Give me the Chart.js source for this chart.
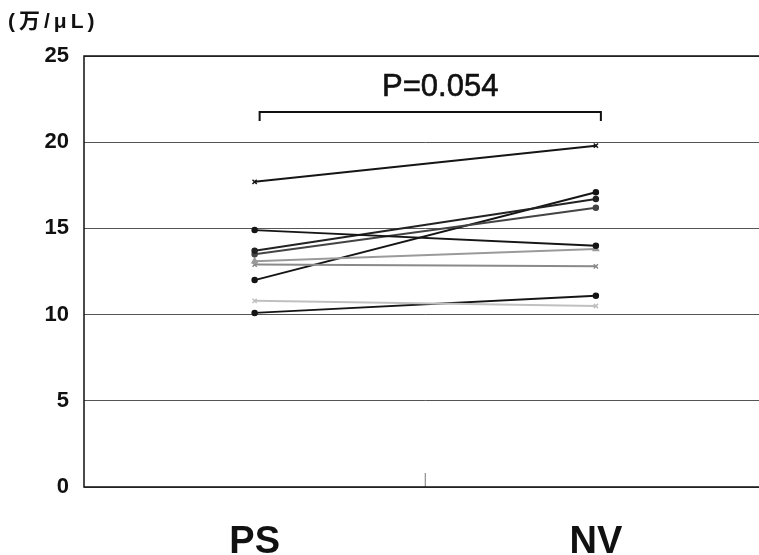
<!DOCTYPE html>
<html>
<head>
<meta charset="utf-8">
<script src="https://cdn.jsdelivr.net/npm/chart.js@4"></script>
<style>
  html, body { margin: 0; padding: 0; background: #fff; overflow: hidden; }
  #wrap { width: 772px; height: 555px; }
</style>
</head>
<body>
<div id="wrap"><canvas id="plateletChart"></canvas></div>
<script>
// Data

const groups = ["PS", "NV"];
const yTicks = [0, 5, 10, 15, 20, 25];

const ps = [17.7, 14.9, 13.7, 13.5, 13.1, 12.9, 12.0, 10.8, 10.1];
const nv = [19.8, 14.0, 16.7, 16.2, 13.8, 12.8, 17.1, 10.5, 11.1];

const lineColors = ['#151515', '#151515', '#222222', '#444444', '#9a9a9a', '#8a8a8a', '#151515', '#c0c0c0', '#151515'];
const markers = ['crossRot', 'circle', 'circle', 'circle', 'triangle', 'crossRot', 'circle', 'crossRot', 'circle'];

const unitLabel = '(万/μL)';
const pLabel = 'P=0.054';

// Build datasets

let datasets = ps.map((v, i) => ({
    data: [v, nv[i]],
    borderColor: lineColors[i],
    backgroundColor: lineColors[i],
    borderWidth: 2,
    pointStyle: markers[i],
    pointRadius: markers[i] === 'circle' ? 2.5 : 3,
    pointBorderWidth: 1.5
}));

// Annotations: unit label, bracket, p-value, center tick

const extras = {
    id: 'extras',
    afterDraw(chart) {
        const ctx = chart.ctx;
        const x = chart.scales.x;
        const y = chart.scales.y;
        const area = chart.chartArea;
        ctx.save();

        ctx.fillStyle = '#111';
        ctx.font = 'bold 21px "Liberation Sans", "Noto Sans CJK JP"';
        ctx.textBaseline = 'middle';
        ctx.textAlign = 'left';
        ctx.letterSpacing = '4px';
        ctx.fillText(unitLabel, 8, 22);
        ctx.letterSpacing = '0px';

        let x1 = x.getPixelForValue(0) + 5;
        let x2 = x.getPixelForValue(1) + 5;
        let yTop = y.getPixelForValue(21.75);
        ctx.strokeStyle = '#111';
        ctx.lineWidth = 2;
        ctx.beginPath();
        ctx.moveTo(x1, yTop + 9);
        ctx.lineTo(x1, yTop);
        ctx.lineTo(x2, yTop);
        ctx.lineTo(x2, yTop + 9);
        ctx.stroke();

        ctx.font = '31px "Liberation Sans"';
        ctx.textAlign = 'center';
        ctx.lineWidth = 0.6;
        ctx.fillText(pLabel, (x1 + x2) / 2 + 10, y.getPixelForValue(23.2));
        ctx.strokeText(pLabel, (x1 + x2) / 2 + 10, y.getPixelForValue(23.2));

        let mid = (x.getPixelForValue(0) + x.getPixelForValue(1)) / 2;
        ctx.strokeStyle = '#777';
        ctx.lineWidth = 1;
        ctx.beginPath();
        ctx.moveTo(mid, area.bottom);
        ctx.lineTo(mid, area.bottom - 14);
        ctx.stroke();

        ctx.strokeStyle = '#111';
        ctx.lineWidth = 1.5;
        ctx.beginPath();
        ctx.moveTo(area.right + 5, area.top);
        ctx.lineTo(area.left, area.top);
        ctx.lineTo(area.left, area.bottom);
        ctx.lineTo(area.right + 5, area.bottom);
        ctx.stroke();
        ctx.restore();
    }
};

let chartOptions = {
    responsive: true,
    maintainAspectRatio: false,
    animation: false,
    layout: {
        padding: { top: 56, left: 0, right: 0, bottom: 0 }
    },
    scales: {
        x: {
            type: 'category',
            offset: true,
            grid: { display: false, drawTicks: false },
            border: { display: false },
            ticks: {
                color: '#111',
                padding: 33,
                font: { family: 'Liberation Sans', size: 38, weight: 'bold' }
            },
            afterFit: s => { s.height = 68; }
        },
        y: {
            min: 0,
            max: 25,
            afterBuildTicks: s => { s.ticks = yTicks.map(v => ({ value: v })); },
            grid: { color: '#555', lineWidth: 1, drawTicks: false },
            border: { display: false },
            ticks: {
                color: '#111',
                padding: 15,
                font: { family: 'Liberation Sans', size: 22, weight: 'bold' }
            },
            afterFit: s => { s.width = 84; }
        }
    },
    plugins: {
        legend: { display: false },
        tooltip: { enabled: false }
    }
};

let plateletChart = new Chart(document.getElementById('plateletChart'), {
    type: 'line',
    data: { labels: groups, datasets: datasets },
    options: chartOptions,
    plugins: [extras]
});
</script>
</body>
</html>
